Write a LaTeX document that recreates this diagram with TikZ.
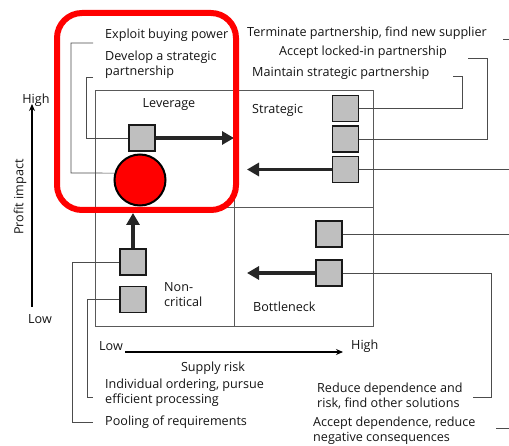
\documentclass[tikz,border=0pt]{standalone}
\usepackage{fontspec}
\setmainfont{Open Sans}
\usetikzlibrary{arrows.meta,calc}
\begin{document}
\begin{tikzpicture}[x=1pt,y=-1pt,
  every node/.style={font=\fontsize{12.6}{15.5}\selectfont, inner sep=0pt, text=black!92},
  sq/.style={draw=black!90, line width=1.4pt, fill=black!25, minimum size=26pt, inner sep=0pt},
  lead/.style={draw=black!70, line width=0.7pt},
  gridline/.style={draw=black!65, line width=0.8pt},
  bigarrow/.style={draw=black!85, line width=3.6pt, -{Triangle[length=12pt,width=13pt]}},
  axis/.style={draw=black, line width=1.8pt, -{Stealth[length=7pt,width=6pt]}},
  txt/.style={anchor=west, align=left}
]
\useasboundingbox (0,0) rectangle (509,446);
\fill[white] (0,0) rectangle (509,446);
% matrix grid
\draw[gridline] (95,90) rectangle (373,326);
\draw[gridline] (234,90) -- (234,326);
\draw[gridline] (95,207) -- (373,207);
% texts
\node[txt] (exploit) at (105,35) {Exploit buying power};
\node[txt] (develop) at (105,64.5) {Develop a strategic\\partnership};
\node[txt] (terminate) at (247,33) {Terminate partnership, find new supplier};
\node[txt] (acceptlock) at (279,52) {Accept locked-in partnership};
\node[txt] (maintain) at (252,73) {Maintain strategic partnership};
\node (leverage) at (169,105) {Leverage};
\node[txt] (strategic) at (252,110) {Strategic};
\node[txt] (noncrit) at (164,294.5) {Non-\\critical};
\node[txt] (bottleneck) at (253,307) {Bottleneck};
\node[txt] (xlow) at (99,346) {Low};
\node[txt] (xhigh) at (351,346) {High};
\node (supply) at (213,368) {Supply risk};
\node[txt] (individual) at (105,392.5) {Individual ordering, pursue\\efficient processing};
\node[txt] (pooling) at (105,422) {Pooling of requirements};
\node[txt] (reduce) at (317,396) {Reduce dependence and\\risk, find other solutions};
\node[txt] (acceptdep) at (313,430.5) {Accept dependence, reduce\\negative consequences};
\node (yhigh) at (36,100) {High};
\node (ylow) at (40,319) {Low};
\node[rotate=90] (profit) at (20,197) {Profit impact};
% axes
\coordinate (ya) at (32,307);
\coordinate (yb) at (32,104);
\draw[axis] (ya) -- (yb);
\coordinate (xa) at (125,352);
\coordinate (xb) at (343,352);
\draw[axis] (xa) -- (xb);
% squares and circle
\node[sq] (sq1) at (142,138) {};
\node[sq] (s1) at (345.5,108.5) {};
\node[sq] (s2) at (345.5,139) {};
\node[sq] (s3) at (345.5,169.5) {};
\node[sq] (nc1) at (133,262) {};
\node[sq] (nc2) at (133,299.5) {};
\node[sq] (b1) at (329,234) {};
\node[sq] (b2) at (329,273) {};
\node[circle, draw=black, line width=2pt, fill=red, minimum size=51pt] (circ) at (140,180) {};
% leader lines
\coordinate (le1) at (93,43);
\draw[lead] (le1) -- (71,43) -- (71,173) -- (circ.165);
\coordinate (ld1) at (93,77);
\draw[lead] (ld1) -- (86,77) |- (sq1.west);
\coordinate (lm1) at (453,76);
\draw[lead] (lm1) -- (462,76) |- (s1.east);
\coordinate (la1) at (468,58);
\draw[lead] (la1) -- (487,58) |- (s2.east);
\coordinate (lt1) at (503,39);
\coordinate (lt2) at (509,39);
\draw[lead] (lt1) -- (lt2);
\coordinate (ls3) at (509,169.5);
\draw[lead] (s3.east) -- (ls3);
\coordinate (lb1) at (509,234);
\draw[lead] (b1.east) -- (lb1);
\coordinate (lb2) at (473,397);
\draw[lead] (b2.east) -| (491,397) -- (lb2);
\coordinate (lad1) at (496,428);
\coordinate (lad2) at (509,428);
\draw[lead] (lad1) -- (lad2);
\coordinate (lp) at (93,422);
\draw[lead] (nc1.west) -| (72,422) -- (lp);
\coordinate (li) at (93,397);
\draw[lead] (nc2.west) -| (87,397) -- (li);
% thick arrows
\coordinate (levend) at (234,138);
\draw[bigarrow] (sq1.east) -- (levend);
\coordinate (strend) at (247,169.5);
\draw[bigarrow] (s3.west) -- (strend);
\coordinate (botend) at (247,273);
\draw[bigarrow] (b2.west) -- (botend);
\coordinate (upend) at (133,213);
\draw[bigarrow] (nc1.north) -- (upend);
% red highlight
\draw[red, line width=6pt, rounded corners=25pt] (57,13) rectangle (236,210);
\end{tikzpicture}
\end{document}
